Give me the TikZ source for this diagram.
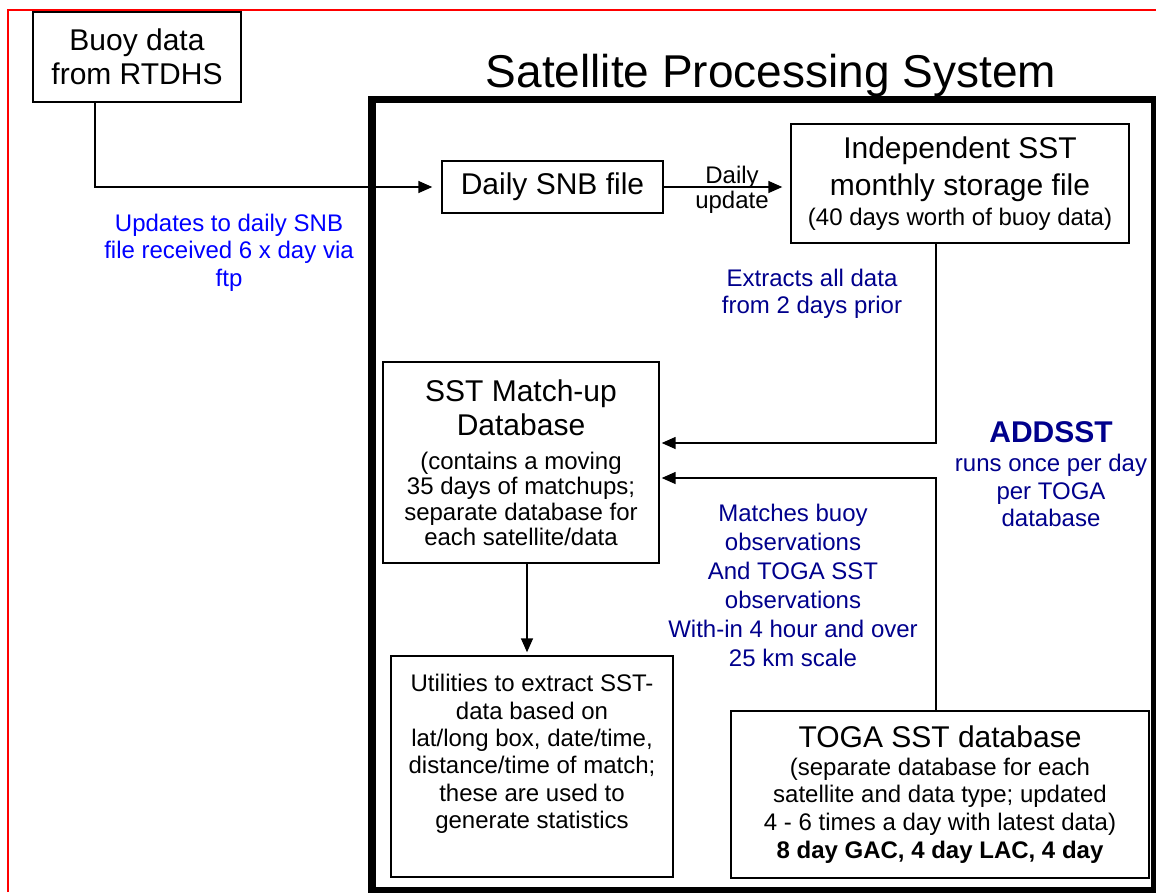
\documentclass[tikz,border=0pt]{standalone}
\usepackage{fontspec}
\setmainfont{Liberation Sans}
\usetikzlibrary{arrows.meta}
\definecolor{navytxt}{RGB}{0,0,140}
\begin{document}
\begin{tikzpicture}[x=1pt,y=-1pt,
  box/.style={draw=black, line width=1.4pt, fill=white, inner sep=0pt, align=center},
  conn/.style={line width=1.5pt, -{Triangle[length=14pt,width=12pt]}},
  big/.style={font=\fontsize{30}{34.5}\selectfont},
  small/.style={font=\fontsize{24}{27.6}\selectfont},
  lbl/.style={inner sep=0pt, align=center},
]
\useasboundingbox (0,0) rectangle (1156,892);
\draw[red, line width=1.2pt] (8,892) -- (8,10) -- (1156,10);
\draw[line width=7.5pt] (372,99.5) rectangle (1155,891);

\node[lbl, font=\fontsize{46}{50}\selectfont, anchor=base] (title) at (771,87) {Satellite Processing System};

\node[box, big, minimum width=208pt, minimum height=90pt] (buoy) at (137,57) {Buoy data\\from RTDHS};
\node[box, big, minimum width=221pt, minimum height=52pt] (snb) at (552.5,187) {Daily SNB file};
\node[box, font={\fontsize{24}{30}\selectfont\lineskiplimit=-100pt}, minimum width=338pt, minimum height=119pt] (indep) at (960,183.5)
  {\fontsize{30}{30}\selectfont Independent SST\\[7pt] \fontsize{30}{30}\selectfont monthly storage file\\ (40 days worth of buoy data)};
\node[box, font={\fontsize{24}{25.5}\selectfont\lineskiplimit=-100pt}, minimum width=276pt, minimum height=201pt] (sst) at (521,462.5)
  {\fontsize{30}{25.5}\selectfont SST Match-up\\[8.5pt] \fontsize{30}{25.5}\selectfont Database\\[8.5pt] (contains a moving\\ 35 days of matchups;\\ separate database for\\ each satellite/data};
\node[box, minimum width=282pt, minimum height=221pt] (util) at (532,766.5) {};
\node[lbl, font={\fontsize{24}{27.3}\selectfont\lineskiplimit=-100pt}, anchor=north] (utxt) at ([yshift=-19pt]util.north)
  {Utilities to extract SST-\\ data based on\\ lat/long box, date/time,\\ distance/time of match;\\ these are used to\\ generate statistics};
\node[box, font={\fontsize{24}{27.6}\selectfont\lineskiplimit=-100pt}, minimum width=418pt, minimum height=167pt] (toga) at (940,794.5)
  {\fontsize{30}{27.6}\selectfont TOGA SST database\\ (separate database for each\\ satellite and data type; updated\\ 4 - 6 times a day with latest data)\\ \bfseries 8 day GAC, 4 day LAC, 4 day};

\node[lbl, small, text=blue, anchor=north] (upd) at (229,213.8)
  {Updates to daily SNB\\ file received 6 x day via\\ ftp};
\node[lbl, font=\fontsize{24}{25}\selectfont, anchor=north] (dupd) at (732,165.8) {Daily\\ update};
\node[lbl, small, text=navytxt, anchor=north] (extr) at (812,268.8) {Extracts all data\\ from 2 days prior};
\node[lbl, text=navytxt, font={\fontsize{24}{27.6}\selectfont\lineskiplimit=-100pt}, anchor=north] (adds) at (1051,421.5)
  {\fontsize{30}{27.6}\selectfont\bfseries ADDSST\\[1.4pt] runs once per day\\ per TOGA\\ database};
\node[lbl, text=navytxt, font={\fontsize{24}{29}\selectfont\lineskiplimit=-100pt}, anchor=north] (mtch) at (793,503.8)
  {Matches buoy\\ observations\\ And TOGA SST\\ observations\\ With-in 4 hour and over\\ 25 km scale};

\coordinate (bstart) at ([xshift=-42pt]buoy.south);
\coordinate (estart) at ([xshift=-24pt]indep.south);
\coordinate (eend) at ([yshift=19.5pt]sst.east);
\coordinate (mstart) at ([xshift=-4pt]toga.north);
\coordinate (mend) at ([yshift=-15.5pt]sst.east);
\coordinate (dstart) at ([xshift=6pt]sst.south);

\draw[conn, shorten >=9pt] (bstart) |- (snb.west);
\draw[conn, shorten >=8pt] (snb.east) -- (snb.east -| indep.west);
\draw[conn, shorten >=2pt] (estart) |- (eend);
\draw[conn, shorten >=2pt] (mstart) |- (mend);
\draw[conn, shorten >=3pt] (dstart) -- (dstart |- util.north);
\end{tikzpicture}
\end{document}
